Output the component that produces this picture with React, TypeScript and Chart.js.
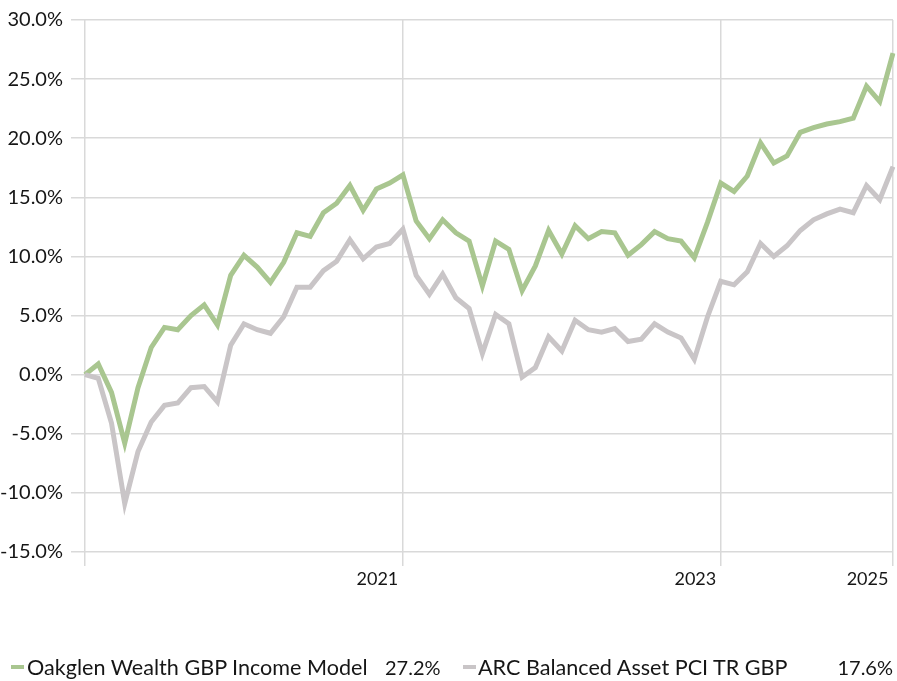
import React, { useEffect, useRef } from 'react';
import { Chart, registerables } from 'chart.js';

Chart.register(...registerables);

// Monthly cumulative returns (%), starting Dec 2019
const START_YEAR = 2019;
const START_MONTH = 11; // December (0-based)
const MONTH_NAMES = ['Jan', 'Feb', 'Mar', 'Apr', 'May', 'Jun', 'Jul', 'Aug', 'Sep', 'Oct', 'Nov', 'Dec'];

const oakglen = [
  0.0, 0.9, -1.5, -5.8, -1.1, 2.3, 4.0, 3.8, 5.0, 5.9, 4.2, 8.4, 10.1,
  9.1, 7.8, 9.5, 12.0, 11.7, 13.7, 14.5, 16.0, 13.9, 15.7, 16.2, 16.9,
  13.0, 11.5, 13.1, 12.0, 11.3, 7.5, 11.3, 10.6, 7.1, 9.2, 12.2, 10.2,
  12.6, 11.5, 12.1, 12.0, 10.1, 11.0, 12.1, 11.5, 11.3, 9.9, 12.9, 16.2,
  15.5, 16.8, 19.6, 17.9, 18.5, 20.5, 20.9, 21.2, 21.4, 21.7, 24.4, 23.1, 27.2,
];

const arc = [
  0.0, -0.3, -4.1, -10.9, -6.5, -4.0, -2.6, -2.4, -1.1, -1.0, -2.3, 2.5, 4.3,
  3.8, 3.5, 4.9, 7.4, 7.4, 8.8, 9.6, 11.4, 9.8, 10.8, 11.1, 12.3,
  8.4, 6.8, 8.5, 6.5, 5.6, 1.8, 5.1, 4.3, -0.2, 0.6, 3.2, 2.0,
  4.6, 3.8, 3.6, 3.9, 2.8, 3.0, 4.3, 3.6, 3.1, 1.3, 4.9, 7.9,
  7.6, 8.7, 11.1, 10.0, 10.9, 12.2, 13.1, 13.6, 14.0, 13.7, 16.0, 14.8, 17.6,
];

const seriesNames = ['Oakglen Wealth GBP Income Model', 'ARC Balanced Asset PCI TR GBP'];
const seriesTotals = ['27.2%', '17.6%'];
const seriesColors = ['#A9C690', '#C9C5C7'];

const markedMonths = ['Dec 2019', 'Dec 2021', 'Dec 2023', 'Jan 2025'];
const markedLabels = ['', '2021 ', '2023 ', '2025 '];

const yMin = -15;
const yMax = 30;
const yStep = 5;

const categories = oakglen.map((_, i) => {
  const m = (START_MONTH + i) % 12;
  const y = START_YEAR + Math.floor((START_MONTH + i) / 12);
  return `${MONTH_NAMES[m]} ${y}`;
});

const FONT = 'Lato, "Open Sans", sans-serif';
const TEXT_COLOR = '#161616';
const GRID_COLOR = '#D9D9D9';

export default function App() {
  const canvasRef = useRef<HTMLCanvasElement | null>(null);

  useEffect(() => {
    document.body.style.margin = '0';
    const canvas = canvasRef.current;
    if (!canvas) return;
    const chart = new Chart(canvas, {
      type: 'line',
      data: {
        labels: categories,
        datasets: [
          {
            label: seriesNames[1],
            data: arc,
            borderColor: seriesColors[1],
            backgroundColor: seriesColors[1],
            borderWidth: 5,
            pointRadius: 0,
            tension: 0,
            fill: false,
          },
          {
            label: seriesNames[0],
            data: oakglen,
            borderColor: seriesColors[0],
            backgroundColor: seriesColors[0],
            borderWidth: 5,
            pointRadius: 0,
            tension: 0,
            fill: false,
          },
        ],
      },
      options: {
        animation: false,
        responsive: false,
        maintainAspectRatio: false,
        layout: { padding: { top: 19, right: 4, left: 0, bottom: 0 } },
        plugins: {
          legend: { display: false },
          tooltip: { enabled: false },
        },
        scales: {
          x: {
            type: 'category',
            offset: false,
            border: { display: false },
            grid: {
              color: (ctx: any) =>
                markedMonths.includes(categories[ctx.index]) ? GRID_COLOR : 'rgba(0,0,0,0)',
              lineWidth: 1.5,
              tickLength: 14,
              drawTicks: true,
            },
            ticks: {
              autoSkip: false,
              maxRotation: 0,
              minRotation: 0,
              align: 'end',
              padding: 2,
              color: TEXT_COLOR,
              font: { family: FONT, size: 18 },
              callback: (_v: any, i: number) => {
                const k = markedMonths.indexOf(categories[i]);
                return k >= 0 ? markedLabels[k] : '';
              },
            },
            afterFit: (s: any) => {
              s.height = 129;
            },
          },
          y: {
            min: yMin,
            max: yMax,
            border: { display: false },
            grid: { color: GRID_COLOR, lineWidth: 1.5, tickLength: 14, drawTicks: true },
            ticks: {
              stepSize: yStep,
              padding: 8,
              color: TEXT_COLOR,
              font: { family: FONT, size: 20 },
              callback: (v: any) => Number(v).toFixed(1) + '%',
            },
            afterFit: (s: any) => {
              s.width = 85;
            },
          },
        },
      } as any,
    });
    return () => chart.destroy();
  }, []);

  const legendText: React.CSSProperties = {
    position: 'absolute',
    top: 655,
    height: 24,
    lineHeight: '24px',
    fontFamily: FONT,
    fontSize: 20,
    color: TEXT_COLOR,
    whiteSpace: 'nowrap',
  };
  const nameText: React.CSSProperties = { ...legendText, fontSize: 21.6 };
  const swatch = (color: string, left: number): React.CSSProperties => ({
    position: 'absolute',
    left,
    top: 665,
    width: 13,
    height: 4,
    background: color,
  });

  return (
    <div style={{ position: 'relative', width: 897, height: 681, background: '#fff' }}>
      <canvas ref={canvasRef} width={897} height={681} style={{ display: 'block' }} />
      <div style={swatch(seriesColors[0], 11)} />
      <div style={{ ...nameText, left: 27 }}>{seriesNames[0]}</div>
      <div style={{ ...legendText, left: 385 }}>{seriesTotals[0]}</div>
      <div style={swatch(seriesColors[1], 463)} />
      <div style={{ ...nameText, left: 478 }}>{seriesNames[1]}</div>
      <div style={{ ...legendText, right: 4 }}>{seriesTotals[1]}</div>
    </div>
  );
}
